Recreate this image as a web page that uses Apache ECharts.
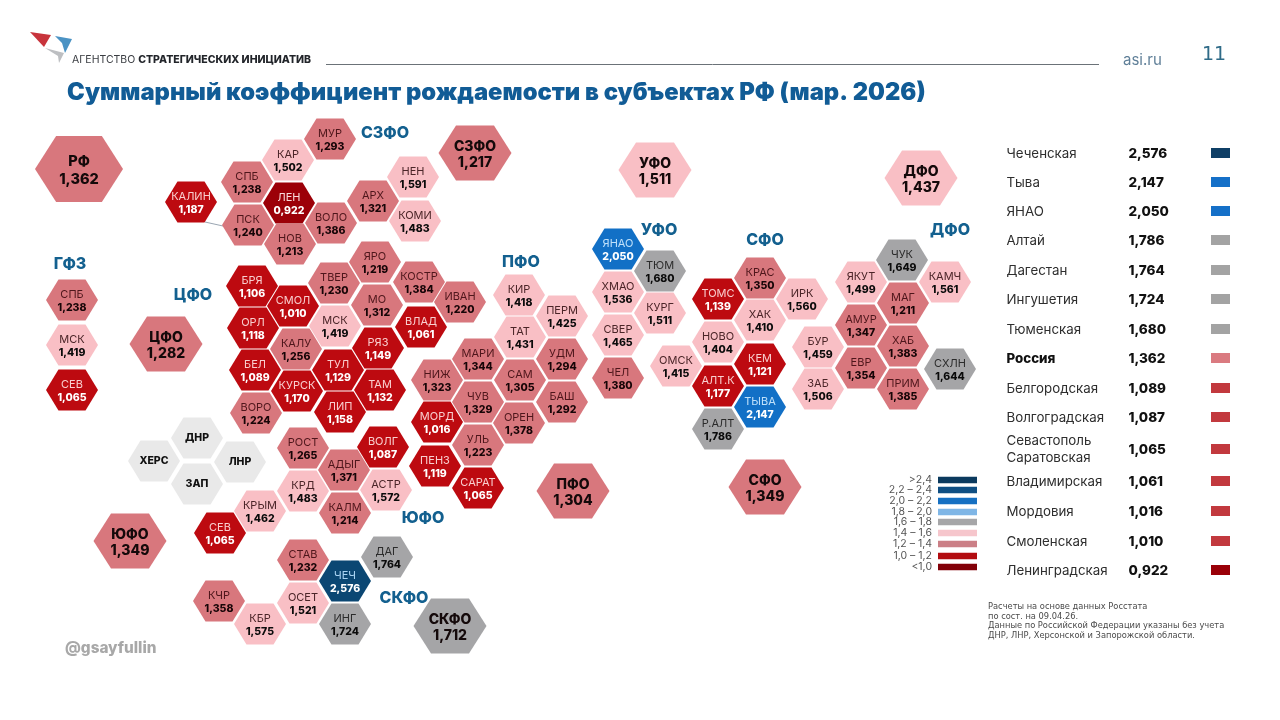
<!DOCTYPE html>
<html><head><meta charset="utf-8">
<style>html,body{margin:0;padding:0;background:#fff}#c{width:1280px;height:720px}</style>
<script src="https://cdn.jsdelivr.net/npm/echarts@6/dist/echarts.min.js"></script>
</head><body><div id="c"></div>
<script>
// ---------- data ----------
const regionNames = ['МУР','КАР','СПБ','ЛЕН','КАЛИН','ПСК','НОВ','ВОЛО','АРХ','НЕН','КОМИ',
 'СПБ','МСК','СЕВ',
 'БРЯ','СМОЛ','ТВЕР','ЯРО','КОСТР','МО','ОРЛ','МСК','КАЛУ','ВЛАД','РЯЗ','ИВАН','БЕЛ','ТУЛ','КУРСК','ТАМ','ЛИП','ВОРО',
 'РОСТ','ВОЛГ','АДЫГ','КРД','АСТР','КРЫМ','КАЛМ','СЕВ',
 'СТАВ','ДАГ','ЧЕЧ','КЧР','ОСЕТ','КБР','ИНГ',
 'КИР','ПЕРМ','ТАТ','МАРИ','УДМ','НИЖ','САМ','ЧУВ','БАШ','МОРД','ОРЕН','УЛЬ','ПЕНЗ','САРАТ',
 'ЯНАО','ТЮМ','ХМАО','КУРГ','СВЕР','ЧЕЛ',
 'ОМСК','КРАС','ТОМС','ИРК','ХАК','НОВО','КЕМ','АЛТ.К','ТЫВА','Р.АЛТ',
 'ЧУК','ЯКУТ','КАМЧ','МАГ','АМУР','ХАБ','БУР','СХЛН','ЕВР','ПРИМ','ЗАБ'];
const regionValues = [1.293,1.502,1.238,0.922,1.187,1.240,1.213,1.386,1.321,1.591,1.483,
 1.238,1.419,1.065,
 1.106,1.010,1.230,1.219,1.384,1.312,1.118,1.419,1.256,1.061,1.149,1.220,1.089,1.129,1.170,1.132,1.158,1.224,
 1.265,1.087,1.371,1.483,1.572,1.462,1.214,1.065,
 1.232,1.764,2.576,1.358,1.521,1.575,1.724,
 1.418,1.425,1.431,1.344,1.294,1.323,1.305,1.329,1.292,1.016,1.378,1.223,1.119,1.065,
 2.050,1.680,1.536,1.511,1.465,1.380,
 1.415,1.350,1.139,1.560,1.410,1.404,1.121,1.177,2.147,1.786,
 1.649,1.499,1.561,1.211,1.347,1.383,1.459,1.644,1.354,1.385,1.506];
// tile-map location of each region, in the hidden axes' units
const regionX = [330,288,247,289,191,248,290,331,373,413,415,
 72,72,72,
 252,293,334,375,419,377,253,335,296,421,378,460,255,338,297,380,340,256,
 303,383,344,303,386,260,345,220,
 303,387,345,219,303,260,345,
 519,562,520,478,562,437,520,478,562,437,519,478,435,478,
 618,660,618,660,618,618,
 676,760,718,802,760,718,760,718,760,718,
 902,861,945,903,861,903,818,950,861,903,818];
const regionY = [139,160,182,203,202,225,244,223,201,177,221,
 300,345,390,
 286,306,283,262,282,305,328,326,349,327,348,302,370,370,391,390,412,413,
 448,447,470,491,490,511,513,533,
 560,557,581,601,603,624,624,
 295,316,337,359,359,380,380,402,402,422,423,445,466,488,
 249,271,292,313,335,378,
 366,278,299,299,320,342,364,386,407,429,
 260,282,282,303,325,346,347,369,368,389,389];

const districtNames = ['РФ','СЗФО','ЦФО','УФО','ДФО','ЮФО','ПФО','СФО','СКФО'];
const districtValues = [1.362,1.217,1.282,1.511,1.437,1.349,1.304,1.349,1.712];
const districtX = [79,475,166,655,921,130,573,765,450];
const districtY = [169,153,344,170,178,541,491,487,626];

const occupiedNames = ['ДНР','ХЕРС','ЛНР','ЗАП'];
const occupiedX = [197,154,240,197];
const occupiedY = [438,461,462,484];

const headingNames = ['СЗФО','ГФЗ','ЦФО','ПФО','УФО','СФО','ДФО','ЮФО','СКФО'];
const headingX = [385,70,193,521,659,765,950,423,404];
const headingY = [133,264,295,262,230,240,230,518,598];

const rankNames = ['Чеченская','Тыва','ЯНАО','Алтай','Дагестан','Ингушетия','Тюменская','Россия','Белгородская','Волгоградская','Севастополь\nСаратовская','Владимирская','Мордовия','Смоленская','Ленинградская'];
const rankValues = [2.576,2.147,2.050,1.786,1.764,1.724,1.680,1.362,1.089,1.087,1.065,1.061,1.016,1.010,0.922];
const rankY = [153,182,211,240,270,299,329,358,388,417,449,481,511,541,570];

const legendLabels = ['>2,4','2,2 – 2,4','2,0 – 2,2','1,8 – 2,0','1,6 – 1,8','1,4 – 1,6','1,2 – 1,4','1,0 – 1,2','<1,0'];
const legendY = [480,490,501,512,522,533,544,556,567];
const binFloors = [2.4,2.2,2.0,1.8,1.6,1.4,1.2,1.0,0];

// ---------- styles ----------
const binColors = ['#0B4773','#0F4F83','#1270C6','#7FB6E6','#A5A5A7','#F9BFC5','#D8777D','#BD0A10','#9C0008'];
const legendColors = ['#0B3A5E','#0F4F83','#1570C2','#7FB6E6','#A6A6A8','#F6C6CC','#CB7F86','#B20C10','#820008'];
const rankColors = ['#0F3F66','#0F4F83','#1570C8','#7FB6E6','#A3A3A3','#F6C6CC','#DA7A80','#C2393E','#9A0008'];
const binNameInk = ['#A9D3F2','#A9D3F2','#BFE0FA','#222','#2b2b2b','#4b2528','#4e161b','#F9CFCF','#F9DADA'];
const binValueInk = ['#fff','#fff','#fff','#111','#0b0b0b','#0b0b0b','#170507','#fff','#fff'];
const binOf = v => binFloors.findIndex(f => v >= f);
const fmt = v => v.toFixed(3).replace('.', ',');
const FONT = 'Inter, "Liberation Sans", sans-serif';
const HEX = 'path://M0,50L24,0L76,0L100,50L76,100L24,100Z';

function hexItem(name, v, x, y) {
  const b = binOf(v);
  return {
    value: [x, y], name, v,
    itemStyle: { color: binColors[b], opacity: 1 },
    label: { rich: {
      n: { color: binNameInk[b], fontSize: 11, fontFamily: FONT, lineHeight: 13, fontWeight: 400 },
      v: { color: binValueInk[b], fontSize: 10.5, fontFamily: FONT, lineHeight: 13, fontWeight: 800 }
    } }
  };
}
const regionData = regionNames.map((n, i) => hexItem(n, regionValues[i], regionX[i], regionY[i]));
const districtData = districtNames.map((n, i) => ({
  value: [districtX[i], districtY[i]], name: n, v: districtValues[i],
  symbolSize: n === 'РФ' ? [88, 66] : [73, 55],
  itemStyle: { color: binColors[binOf(districtValues[i])], opacity: 1 }
}));
const occupiedData = occupiedNames.map((n, i) => ({ value: [occupiedX[i], occupiedY[i]], name: n }));
const headingData = headingNames.map((n, i) => ({ value: [headingX[i], headingY[i]], name: n }));

const centered = { show: true, position: 'inside', align: 'center', verticalAlign: 'middle', opacity: 1 };
const leftText = { show: true, position: 'right', distance: 0, align: 'left', verticalAlign: 'middle', opacity: 1 };

const option = {
  animation: false,
  backgroundColor: '#ffffff',
  title: {
    text: 'Суммарный коэффициент рождаемости в субъектах РФ (мар. 2026)',
    left: 62, top: 76,
    textStyle: { color: '#115C96', fontFamily: FONT, fontWeight: 900, fontSize: 23.75 }
  },
  grid: { left: 0, right: 0, top: 0, bottom: 0 },
  xAxis: { type: 'value', min: 0, max: 1280, show: false },
  yAxis: { type: 'value', min: 0, max: 720, inverse: true, show: false },
  tooltip: { show: false },
  graphic: [
    { type: 'polygon', shape: { points: [[30,32],[51,35],[44,47]] }, style: { fill: '#C8343C' } },
    { type: 'polygon', shape: { points: [[55,36],[72,39],[65,53],[62,43]] }, style: { fill: '#4B93C4' } },
    { type: 'polygon', shape: { points: [[45,48],[64,53],[59,63],[58,56]] }, style: { fill: '#BDBFC2' } },
    { type: 'text', x: 72, y: 54, style: { rich: {
        a: { fontFamily: FONT, fontSize: 10.5, fill: '#3a3d42', fontWeight: 400 },
        b: { fontFamily: FONT, fontSize: 10.5, fill: '#22252a', fontWeight: 800 }
      }, text: '{a|АГЕНТСТВО }{b|СТРАТЕГИЧЕСКИХ ИНИЦИАТИВ}' } },
    { type: 'line', shape: { x1: 326, y1: 64.5, x2: 1099, y2: 64.5 }, style: { stroke: '#6b7278', lineWidth: 1 } },
    { type: 'text', x: 1123, y: 52.5, style: { text: 'asi.ru', fontFamily: FONT, fontSize: 15, fill: '#5f7f98' } },
    { type: 'text', x: 1202, y: 46, style: { text: '11', fontFamily: '"DejaVu Sans"', fontSize: 19, fill: '#2f6b88' } },
    { type: 'line', shape: { x1: 205, y1: 222, x2: 223, y2: 226 }, style: { stroke: '#9aa6b2', lineWidth: 1 } },
    { type: 'text', x: 65, y: 641, style: { text: '@gsayfullin', fontFamily: FONT, fontSize: 15.3, fontWeight: 800, fill: '#A8A8A8' } },
    { type: 'text', x: 988, y: 602, style: { text: 'Расчеты на основе данных Росстата\nпо сост. на 09.04.26.\nДанные по Российской Федерации указаны без учета\nДНР, ЛНР, Херсонской и Запорожской области.', fontFamily: '"DejaVu Sans"', fontSize: 8.3, lineHeight: 9.7, fill: '#4a4a4a' } }
  ],
  series: [
    { name: 'Субъекты', type: 'scatter', clip: false, symbol: HEX, symbolSize: [52, 41], z: 3,
      data: regionData,
      label: { ...centered, offset: [0, 1.5], formatter: p => '{n|' + p.data.name + '}\n{v|' + fmt(p.data.v) + '}' } },
    { name: 'Округа', type: 'scatter', clip: false, symbol: HEX, z: 3, data: districtData,
      label: { ...centered, offset: [0, 1.5], formatter: p => p.data.name === 'РФ' ? '{N|' + p.data.name + '}\n{V|' + fmt(p.data.v) + '}' : '{n|' + p.data.name + '}\n{v|' + fmt(p.data.v) + '}',
        rich: {
          n: { fontFamily: FONT, fontSize: 14, fontWeight: 800, color: '#14090a', lineHeight: 16 },
          v: { fontFamily: FONT, fontSize: 14, fontWeight: 800, color: '#14090a', lineHeight: 16 },
          N: { fontFamily: FONT, fontSize: 14.5, fontWeight: 800, color: '#14090a', lineHeight: 18 },
          V: { fontFamily: FONT, fontSize: 14.5, fontWeight: 800, color: '#14090a', lineHeight: 18 }
        } } },
    { name: 'Без данных', type: 'scatter', clip: false, symbol: HEX, symbolSize: [52, 41], z: 3, data: occupiedData,
      itemStyle: { color: '#E9E9E9', opacity: 1 },
      label: { ...centered, formatter: '{b}', fontFamily: FONT, fontSize: 10.5, fontWeight: 800, color: '#111' } },
    { name: 'Подписи', type: 'scatter', symbolSize: 1, itemStyle: { color: 'transparent' }, z: 4, data: headingData,
      label: { ...centered, formatter: '{b}', fontFamily: FONT, fontSize: 16, fontWeight: 800, color: '#13608F' } },
    { name: 'Рейтинг: названия', type: 'scatter', symbolSize: 1, itemStyle: { color: 'transparent' }, z: 4,
      data: rankNames.map((n, i) => ({ value: [1006, rankY[i] + 0.5], name: n })),
      label: { ...leftText, formatter: p => p.data.name === 'Россия' ? '{b|' + p.data.name + '}' : p.data.name,
        fontFamily: FONT, fontSize: 13.3, color: '#2e2e2e', lineHeight: 17.5,
        rich: { b: { fontFamily: FONT, fontSize: 13.3, fontWeight: 800, color: '#111' } } } },
    { name: 'Рейтинг: значения', type: 'scatter', symbolSize: 1, itemStyle: { color: 'transparent' }, z: 4,
      data: rankValues.map((v, i) => ({ value: [1128, rankY[i] + 0.5], v })),
      label: { ...leftText, formatter: p => fmt(p.data.v), fontFamily: FONT, fontSize: 13.5, fontWeight: 800, color: '#111' } },
    { name: 'Рейтинг: цвет', type: 'scatter', symbol: 'rect', symbolSize: [19, 10], z: 4,
      data: rankValues.map((v, i) => ({ value: [1220.5, rankY[i]], itemStyle: { color: rankColors[binOf(v)], opacity: 1 } })) },
    { name: 'Шкала', type: 'scatter', symbol: 'rect', symbolSize: [39, 6.5], z: 4,
      data: legendLabels.map((l, i) => ({ value: [957.5, legendY[i]], name: l, itemStyle: { color: legendColors[i], opacity: 1 } })),
      label: { show: true, position: 'left', distance: 6, formatter: '{b}', fontFamily: FONT, fontSize: 10.5, color: '#555', opacity: 1 } }
  ]
};
echarts.init(document.getElementById('c'), null, { renderer: 'canvas' }).setOption(option);
</script></body></html>
